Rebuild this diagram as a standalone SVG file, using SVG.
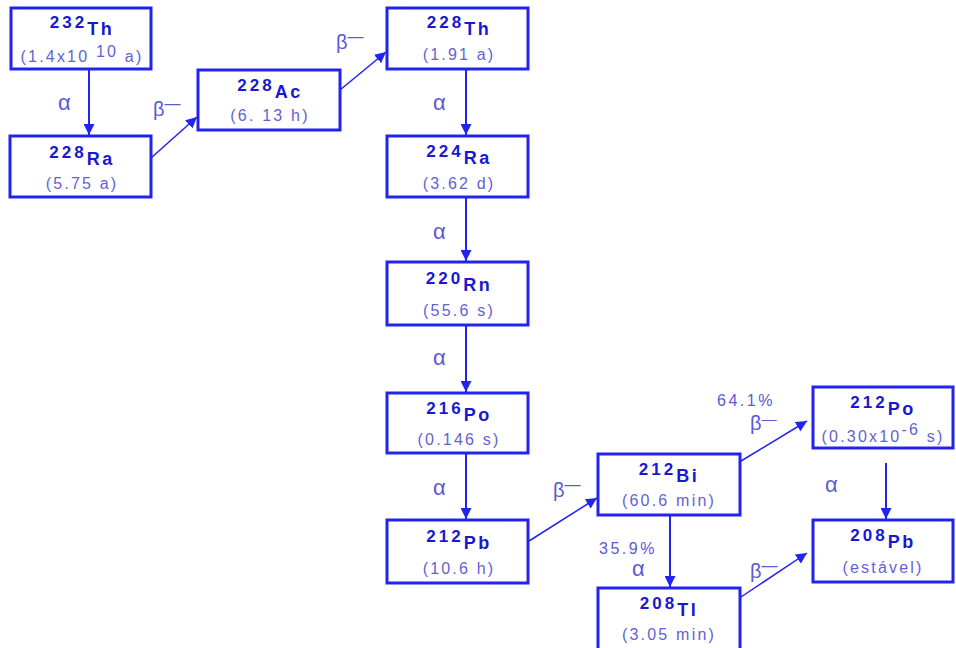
<svg xmlns="http://www.w3.org/2000/svg" width="956" height="648" viewBox="0 0 956 648">
<defs>
<style>
.box{fill:#fff;stroke:#2323f0;stroke-width:3}
.t{font-family:"Liberation Sans",Arial,sans-serif;font-weight:bold;fill:#1818d0;text-anchor:middle}
.d{font-size:17px;letter-spacing:3px}
.e{font-size:18px;letter-spacing:2.5px}
.h{font-family:"Liberation Sans",Arial,sans-serif;font-size:16px;fill:#6262d6;text-anchor:middle;letter-spacing:2.2px}
.g{font-family:"Liberation Sans",Arial,sans-serif;font-size:22px;fill:#5a5ad2}
.b{font-family:"Liberation Sans",Arial,sans-serif;font-size:20px;fill:#5a5ad2}
.p{font-family:"Liberation Sans",Arial,sans-serif;font-size:16px;fill:#5a5ad2;letter-spacing:2.5px}
.c{stroke:#2323f0;fill:none;marker-end:url(#ah)}
</style>
<marker id="ah" markerUnits="userSpaceOnUse" markerWidth="11" markerHeight="11" refX="10" refY="5" orient="auto" viewBox="0 0 10 10">
<path d="M0,0 L10,5 L0,10 z" fill="#2323f0"/>
</marker>
</defs>
<rect width="956" height="648" fill="#fff"/>
<g id="connectors">
<line class="c" x1="89" y1="69" x2="89" y2="135" stroke-width="2"/>
<line class="c" x1="151" y1="158" x2="197" y2="117" stroke-width="1.5"/>
<line class="c" x1="340" y1="90" x2="386" y2="52" stroke-width="1.5"/>
<line class="c" x1="466" y1="69" x2="466" y2="135" stroke-width="2"/>
<line class="c" x1="466" y1="197" x2="466" y2="261" stroke-width="2"/>
<line class="c" x1="466" y1="325" x2="466" y2="392" stroke-width="2"/>
<line class="c" x1="466" y1="453" x2="466" y2="519" stroke-width="2"/>
<line class="c" x1="529" y1="541" x2="597" y2="498" stroke-width="1.5"/>
<line class="c" x1="741" y1="461" x2="807" y2="421" stroke-width="1.5"/>
<line class="c" x1="670" y1="515" x2="670" y2="587" stroke-width="2"/>
<line class="c" x1="886" y1="463" x2="886" y2="519" stroke-width="2"/>
<line class="c" x1="741" y1="597" x2="807" y2="553" stroke-width="1.5"/>
<text class="g" x="58" y="110">α</text>
<text class="b" x="153" y="116">β<tspan dy="-7" font-size="16">—</tspan></text>
<text class="b" x="336" y="49">β<tspan dy="-7" font-size="16">—</tspan></text>
<text class="g" x="433" y="110">α</text>
<text class="g" x="433" y="239">α</text>
<text class="g" x="433" y="365">α</text>
<text class="g" x="433" y="495">α</text>
<text class="b" x="553" y="497">β<tspan dy="-7" font-size="16">—</tspan></text>
<text class="p" x="717" y="406">64.1%</text>
<text class="b" x="750" y="430" font-size="18">β<tspan dy="-6" font-size="15">—</tspan></text>
<text class="p" x="599" y="554">35.9%</text>
<text class="g" x="632" y="576" font-size="19">α</text>
<text class="g" x="825" y="492">α</text>
<text class="b" x="750" y="578">β<tspan dy="-7" font-size="16">—</tspan></text>
</g>
<g id="th232">
<rect class="box" x="11" y="8" width="140" height="61"/>
<text class="t" x="82" y="28"><tspan class="d">232</tspan><tspan class="e" dy="7">Th</tspan></text>
<text class="h" x="82" y="62" letter-spacing="1.8">(1.4x10 <tspan dy="-5">10</tspan><tspan dy="5"> a)</tspan></text>
</g>
<g id="ra228">
<rect class="box" x="10" y="136" width="141" height="61"/>
<text class="t" x="82" y="158"><tspan class="d">228</tspan><tspan class="e" dy="7">Ra</tspan></text>
<text class="h" x="82" y="189">(5.75 a)</text>
</g>
<g id="ac228">
<rect class="box" x="198" y="70" width="142" height="60"/>
<text class="t" x="270" y="91"><tspan class="d">228</tspan><tspan class="e" dy="7">Ac</tspan></text>
<text class="h" x="270" y="121">(6. 13 h)</text>
</g>
<g id="th228">
<rect class="box" x="387" y="8" width="141" height="61"/>
<text class="t" x="459" y="28"><tspan class="d">228</tspan><tspan class="e" dy="7">Th</tspan></text>
<text class="h" x="459" y="60">(1.91 a)</text>
</g>
<g id="ra224">
<rect class="box" x="387" y="136" width="141" height="61"/>
<text class="t" x="459" y="157"><tspan class="d">224</tspan><tspan class="e" dy="7">Ra</tspan></text>
<text class="h" x="459" y="189">(3.62 d)</text>
</g>
<g id="rn220">
<rect class="box" x="387" y="262" width="141" height="63"/>
<text class="t" x="459" y="284"><tspan class="d">220</tspan><tspan class="e" dy="7">Rn</tspan></text>
<text class="h" x="459" y="316">(55.6 s)</text>
</g>
<g id="po216">
<rect class="box" x="387" y="393" width="141" height="60"/>
<text class="t" x="459" y="414"><tspan class="d">216</tspan><tspan class="e" dy="7">Po</tspan></text>
<text class="h" x="459" y="445">(0.146 s)</text>
</g>
<g id="pb212">
<rect class="box" x="387" y="520" width="141" height="63"/>
<text class="t" x="459" y="542"><tspan class="d">212</tspan><tspan class="e" dy="7">Pb</tspan></text>
<text class="h" x="459" y="574">(10.6 h)</text>
</g>
<g id="bi212">
<rect class="box" x="598" y="454" width="142" height="61"/>
<text class="t" x="669" y="475"><tspan class="d">212</tspan><tspan class="e" dy="7">Bi</tspan></text>
<text class="h" x="669" y="506">(60.6 min)</text>
</g>
<g id="tl208">
<rect class="box" x="598" y="588" width="142" height="62"/>
<text class="t" x="669" y="609"><tspan class="d">208</tspan><tspan class="e" dy="7">Tl</tspan></text>
<text class="h" x="669" y="640">(3.05 min)</text>
</g>
<g id="po212">
<rect class="box" x="813" y="387" width="140" height="61"/>
<text class="t" x="883" y="408"><tspan class="d">212</tspan><tspan class="e" dy="7">Po</tspan></text>
<text class="h" x="883" y="442" letter-spacing="1.3">(0.30x10<tspan dy="-7">-6</tspan><tspan dy="7"> s)</tspan></text>
</g>
<g id="pb208">
<rect class="box" x="813" y="520" width="140" height="62"/>
<text class="t" x="883" y="541"><tspan class="d">208</tspan><tspan class="e" dy="7">Pb</tspan></text>
<text class="h" x="883" y="573">(estável)</text>
</g>
</svg>
